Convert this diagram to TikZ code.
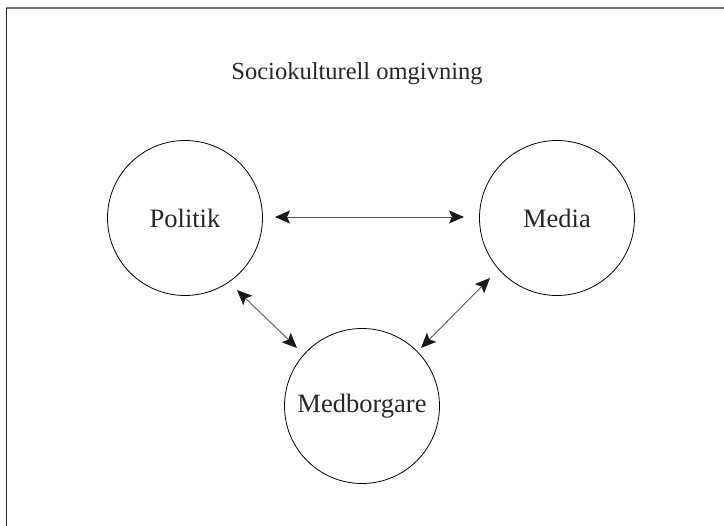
\documentclass[tikz,border=0pt]{standalone}
\usepackage{fontspec}
\setmainfont{Liberation Serif}
\usetikzlibrary{arrows.meta}
\begin{document}
\begin{tikzpicture}[x=1pt,y=-1pt,
  >={Stealth[length=15pt,width=13pt,inset=3pt,color=black!90]},
  actor/.style={circle,draw=black,line width=0.8pt,minimum size=155pt,inner sep=0pt,font=\fontsize{26.5}{30}\selectfont,text=black!85},
  link/.style={draw=black!65,line width=0.9pt,<->}]
  \useasboundingbox (0,0) rectangle (724,526);
  % open frame: top and left edges only
  \draw[black!55,line width=1.6pt] (6,8) -- (724,8);
  \draw[black!85,line width=1.4pt] (6.5,8) -- (6.5,526);
  \node[font=\fontsize{24.5}{28}\selectfont,text=black!85] (title) at (357,74) {Sociokulturell omgivning};
  \node[actor] (pol) at (185,218) {Politik};
  \node[actor] (med) at (557,218) {Media};
  \node[actor] (bor) at (362,406) {Medborgare};
  \coordinate (a1) at (275,217);
  \coordinate (a2) at (464,217);
  \coordinate (b1) at (237,290);
  \coordinate (b2) at (297,348);
  \coordinate (c1) at (490,278);
  \coordinate (c2) at (421,348);
  \draw[link] (a1) -- (a2);
  \draw[link] (b1) -- (b2);
  \draw[link] (c1) -- (c2);
\end{tikzpicture}
\end{document}
